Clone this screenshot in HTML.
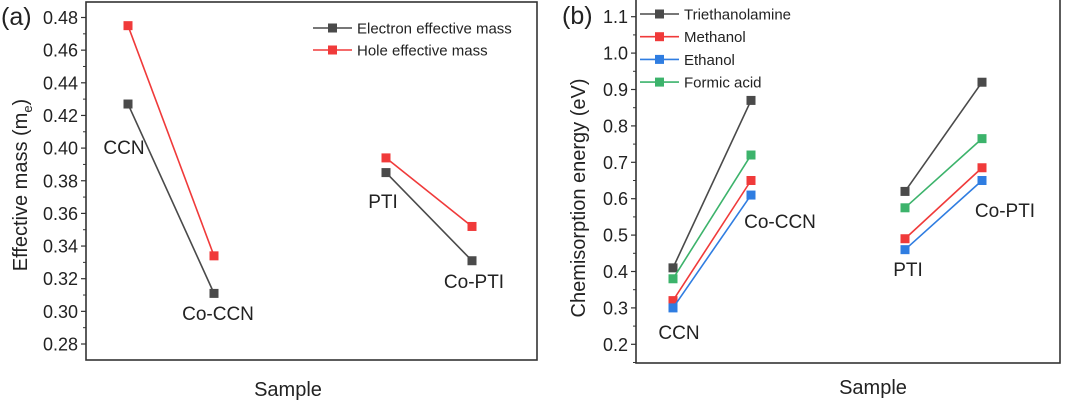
<!DOCTYPE html>
<html><head><meta charset="utf-8"><style>
body{margin:0;background:#fff;}
svg{display:block;font-family:"Liberation Sans",Arial,sans-serif;}
</style></head><body>
<svg id="c" width="1080" height="408" viewBox="0 0 1080 408"></svg>
<script>
const samples=["CCN","Co-CCN","PTI","Co-PTI"];
const electronMass=[0.427,0.311,0.385,0.331];
const holeMass=[0.475,0.334,0.394,0.352];
const leftTicks=[0.28,0.30,0.32,0.34,0.36,0.38,0.40,0.42,0.44,0.46,0.48];
const tea=[0.41,0.87,0.62,0.92];
const methanol=[0.32,0.65,0.49,0.685];
const ethanol=[0.30,0.61,0.46,0.65];
const formic=[0.38,0.72,0.575,0.765];
const rightTicks=[0.2,0.3,0.4,0.5,0.6,0.7,0.8,0.9,1.0,1.1];

const NS="http://www.w3.org/2000/svg";
const svg=document.getElementById('c');
function el(tag,attrs,parent,text){const e=document.createElementNS(NS,tag);for(const k in attrs)e.setAttribute(k,attrs[k]);if(text!==undefined)e.textContent=text;(parent||svg).appendChild(e);return e;}

function panel(cfg){
  const g=el('g',{});
  
  
  const y=v=>cfg.y0+(v-cfg.vmin)/(cfg.vmax-cfg.vmin)*(cfg.y1-cfg.y0);
  const r=el('rect',{x:cfg.L,y:cfg.T,width:cfg.R-cfg.L,height:cfg.B-cfg.T,fill:'none',stroke:'#333','stroke-width':1.6},g);
  
  const step=cfg.ticks[1]-cfg.ticks[0];
  cfg.ticks.forEach((t,i)=>{
    const yy=y(t);
    const tk=el('line',{x1:cfg.L-5,x2:cfg.L,y1:yy,y2:yy,stroke:'#333','stroke-width':1.2},g);
    
    const lb=el('text',{x:cfg.L-8,y:yy+6.5,'text-anchor':'end','font-size':18,fill:'#222'},g,t.toFixed(cfg.dec));
    
    const ym=y(t+step/2);
    if(ym>cfg.T){const mt=el('line',{x1:cfg.L-3,x2:cfg.L,y1:ym,y2:ym,stroke:'#333','stroke-width':1},g);
      }
  });
  const ym0=y(cfg.ticks[0]-step/2);
  if(ym0<cfg.B){const mt=el('line',{x1:cfg.L-3,x2:cfg.L,y1:ym0,y2:ym0,stroke:'#333','stroke-width':1},g);
    }
  cfg.series.forEach(s=>{
    const pts=s.vals.map((v,i)=>[cfg.xs[i],y(v)]);
    [[0,1],[2,3]].forEach(([a,b])=>{
      const ln=el('line',{x1:pts[a][0],y1:pts[a][1],x2:pts[b][0],y2:pts[b][1],stroke:s.color,'stroke-width':1.6},g);
      
    });
    pts.forEach((p,i)=>{
      const m=el('rect',{x:p[0]-4.5,y:p[1]-4.5,width:9,height:9,fill:s.color},g);
      
      
    });
  });
  cfg.labels.forEach((l,i)=>{
    const t=el('text',{x:l[0],y:l[1],'text-anchor':'middle','font-size':19,fill:'#222'},g,samples[i]);
    
  });
  cfg.series.forEach((s,i)=>{
    const ly=cfg.legY+i*cfg.legDy;
    const a=el('line',{x1:cfg.legX,x2:cfg.legX+39,y1:ly,y2:ly,stroke:s.color,'stroke-width':1.6},g);
    
    const m=el('rect',{x:cfg.legX+15,y:ly-4.5,width:9,height:9,fill:s.color},g);
    
    const t=el('text',{x:cfg.legX+44,y:ly+5.5,'font-size':15,fill:'#222'},g,s.label);
    
  });
  return g;
}

panel({name:'panel-a',L:86,R:537,T:2,B:360,y0:344,y1:17.5,vmin:0.28,vmax:0.48,ticks:leftTicks,dec:2,
  xs:[128,214,386,472],
  series:[{key:'electron',label:'Electron effective mass',color:'#4a4a4a',vals:electronMass},
          {key:'hole',label:'Hole effective mass',color:'#f03a3a',vals:holeMass}],
  labels:[[124,154],[218,320],[383,208],[474,288]],legX:313,legY:28,legDy:22});

panel({name:'panel-b',L:636,R:1060,T:-1,B:363,y0:344.3,y1:16.7,vmin:0.2,vmax:1.1,ticks:rightTicks,dec:1,
  xs:[673,751,905,982],
  series:[{key:'triethanolamine',label:'Triethanolamine',color:'#4a4a4a',vals:tea},
          {key:'methanol',label:'Methanol',color:'#f03a3a',vals:methanol},
          {key:'ethanol',label:'Ethanol',color:'#2f7de1',vals:ethanol},
          {key:'formic-acid',label:'Formic acid',color:'#3cb36b',vals:formic}],
  labels:[[679,339],[780,228],[908,276],[1005,217]],legX:640,legY:14,legDy:22.7});

let t;
t=el('text',{x:1,y:25,'font-size':25,fill:'#222'},svg,'(a)');
t=el('text',{x:562,y:24,'font-size':25,fill:'#222'},svg,'(b)');
t=el('text',{x:288,y:396,'text-anchor':'middle','font-size':20,fill:'#222'},svg,'Sample');
t=el('text',{x:873,y:394,'text-anchor':'middle','font-size':20,fill:'#222'},svg,'Sample');
t=el('text',{transform:'translate(27,185) rotate(-90)','text-anchor':'middle','font-size':20,fill:'#222'},svg);

t.innerHTML='Effective mass (m<tspan font-size="13" dy="5">e</tspan><tspan dy="-5">)</tspan>';
t=el('text',{transform:'translate(585,198) rotate(-90)','text-anchor':'middle','font-size':20,fill:'#222'},svg,'Chemisorption energy (eV)');

</script>
</body></html>
